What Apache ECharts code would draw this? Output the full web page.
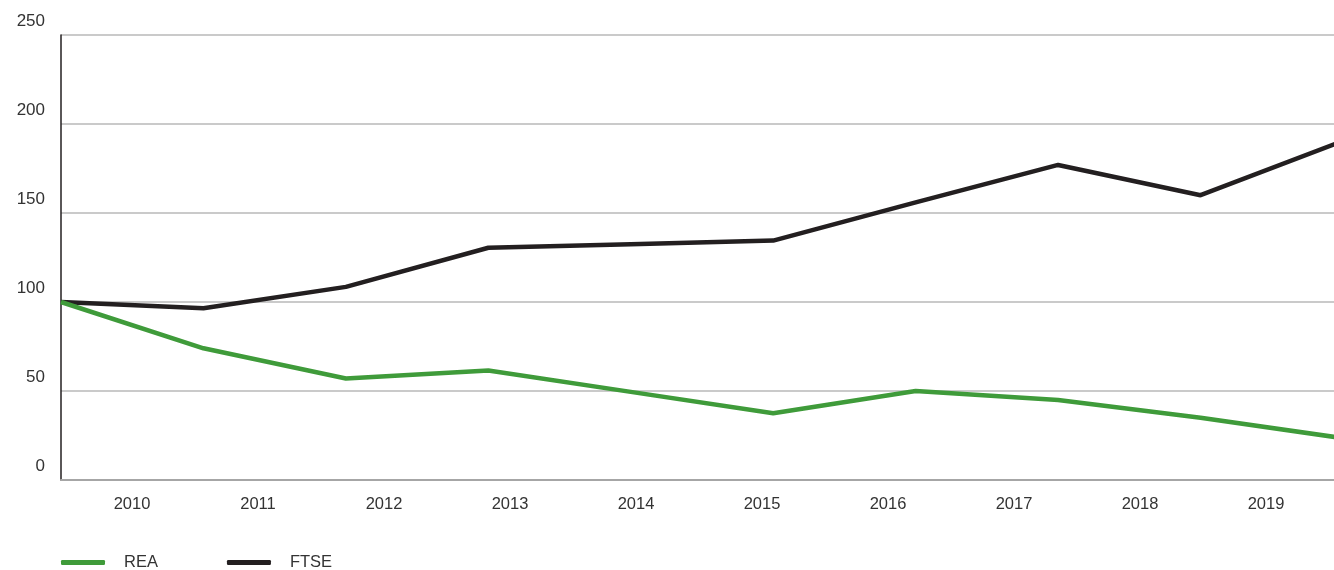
<!DOCTYPE html>
<html>
<head>
<meta charset="utf-8">
<script src="https://cdn.jsdelivr.net/npm/echarts@6/dist/echarts.min.js"></script>
<style>
  html, body { margin: 0; padding: 0; background: #fff; }
  #chart { width: 1334px; height: 570px; }
</style>
</head>
<body>
<div id="chart"></div>
<script>
const years = ['2010', '2011', '2012', '2013', '2014', '2015', '2016', '2017', '2018', '2019']
const points = ['p0', 'p1', 'p2', 'p3', 'p4', 'p5', 'p6', 'p7', 'p8', 'p9']
const rea = [100, 74, 57, 61.5, 49.5, 37.5, 50, 45, 35, 23.5]
const ftse = [100, 96.5, 108.5, 130.5, 132.5, 134.5, 156, 177, 160, 190.5]
const yTicks = [0, 50, 100, 150, 200, 250]

const font = 'Liberation Sans, Arial, sans-serif'
const chart = echarts.init(document.getElementById('chart'))

chart.setOption({
  backgroundColor: '#fff',
  animation: false,
  textStyle: { fontFamily: font },
  legend: {
    left: 56, top: 549,
    itemWidth: 44, itemHeight: 5, itemGap: 69,
    icon: 'roundRect',
    textStyle: { fontSize: 16.5, color: '#333', fontFamily: font, padding: [0, 0, 0, 14] },
    data: ['REA', 'FTSE']
  },
  grid: [
    // the data runs a little past the right edge and is cut off there
    { left: 61, width: 1282, top: 35, bottom: 90, outerBoundsMode: 'none' },
    { left: 69, right: 5, top: 35, bottom: 90, outerBoundsMode: 'none' }
  ],
  xAxis: [
    {
      type: 'category', gridIndex: 0, data: points, boundaryGap: false,
      axisLine: { show: true, lineStyle: { color: '#a6a6a6', width: 2 } },
      axisTick: { show: false }, axisLabel: { show: false }, splitLine: { show: false }
    },
    {
      type: 'category', gridIndex: 1, data: years, boundaryGap: true,
      axisLine: { show: false }, axisTick: { show: false }, splitLine: { show: false },
      axisLabel: { fontSize: 16.5, color: '#333', margin: 16, fontFamily: font }
    }
  ],
  yAxis: [
    {
      type: 'value', gridIndex: 0, min: 0, max: 250, interval: 50,
      axisLine: { show: true, lineStyle: { color: '#231f20', width: 1.5 } },
      axisTick: { show: false },
      splitLine: { lineStyle: { color: '#b8b8b8', width: 1.5 } },
      axisLabel: {
        fontSize: 17, color: '#333', margin: 16, fontFamily: font,
        verticalAlign: 'bottom', padding: [0, 0, 5, 0],
        formatter: v => yTicks.includes(v) ? String(v) : ''
      }
    },
    {
      type: 'value', gridIndex: 1, min: 0, max: 250, show: false
    }
  ],
  series: [
    {
      name: 'REA', type: 'line', xAxisIndex: 0, yAxisIndex: 0, data: rea,
      symbol: 'none', color: '#3f9b3a',
      lineStyle: { width: 4.5, color: '#3f9b3a' }, z: 3
    },
    {
      name: 'FTSE', type: 'line', xAxisIndex: 0, yAxisIndex: 0, data: ftse,
      symbol: 'none', color: '#231f20',
      lineStyle: { width: 4.5, color: '#231f20' }, z: 2
    }
  ]
})
</script>
</body>
</html>
